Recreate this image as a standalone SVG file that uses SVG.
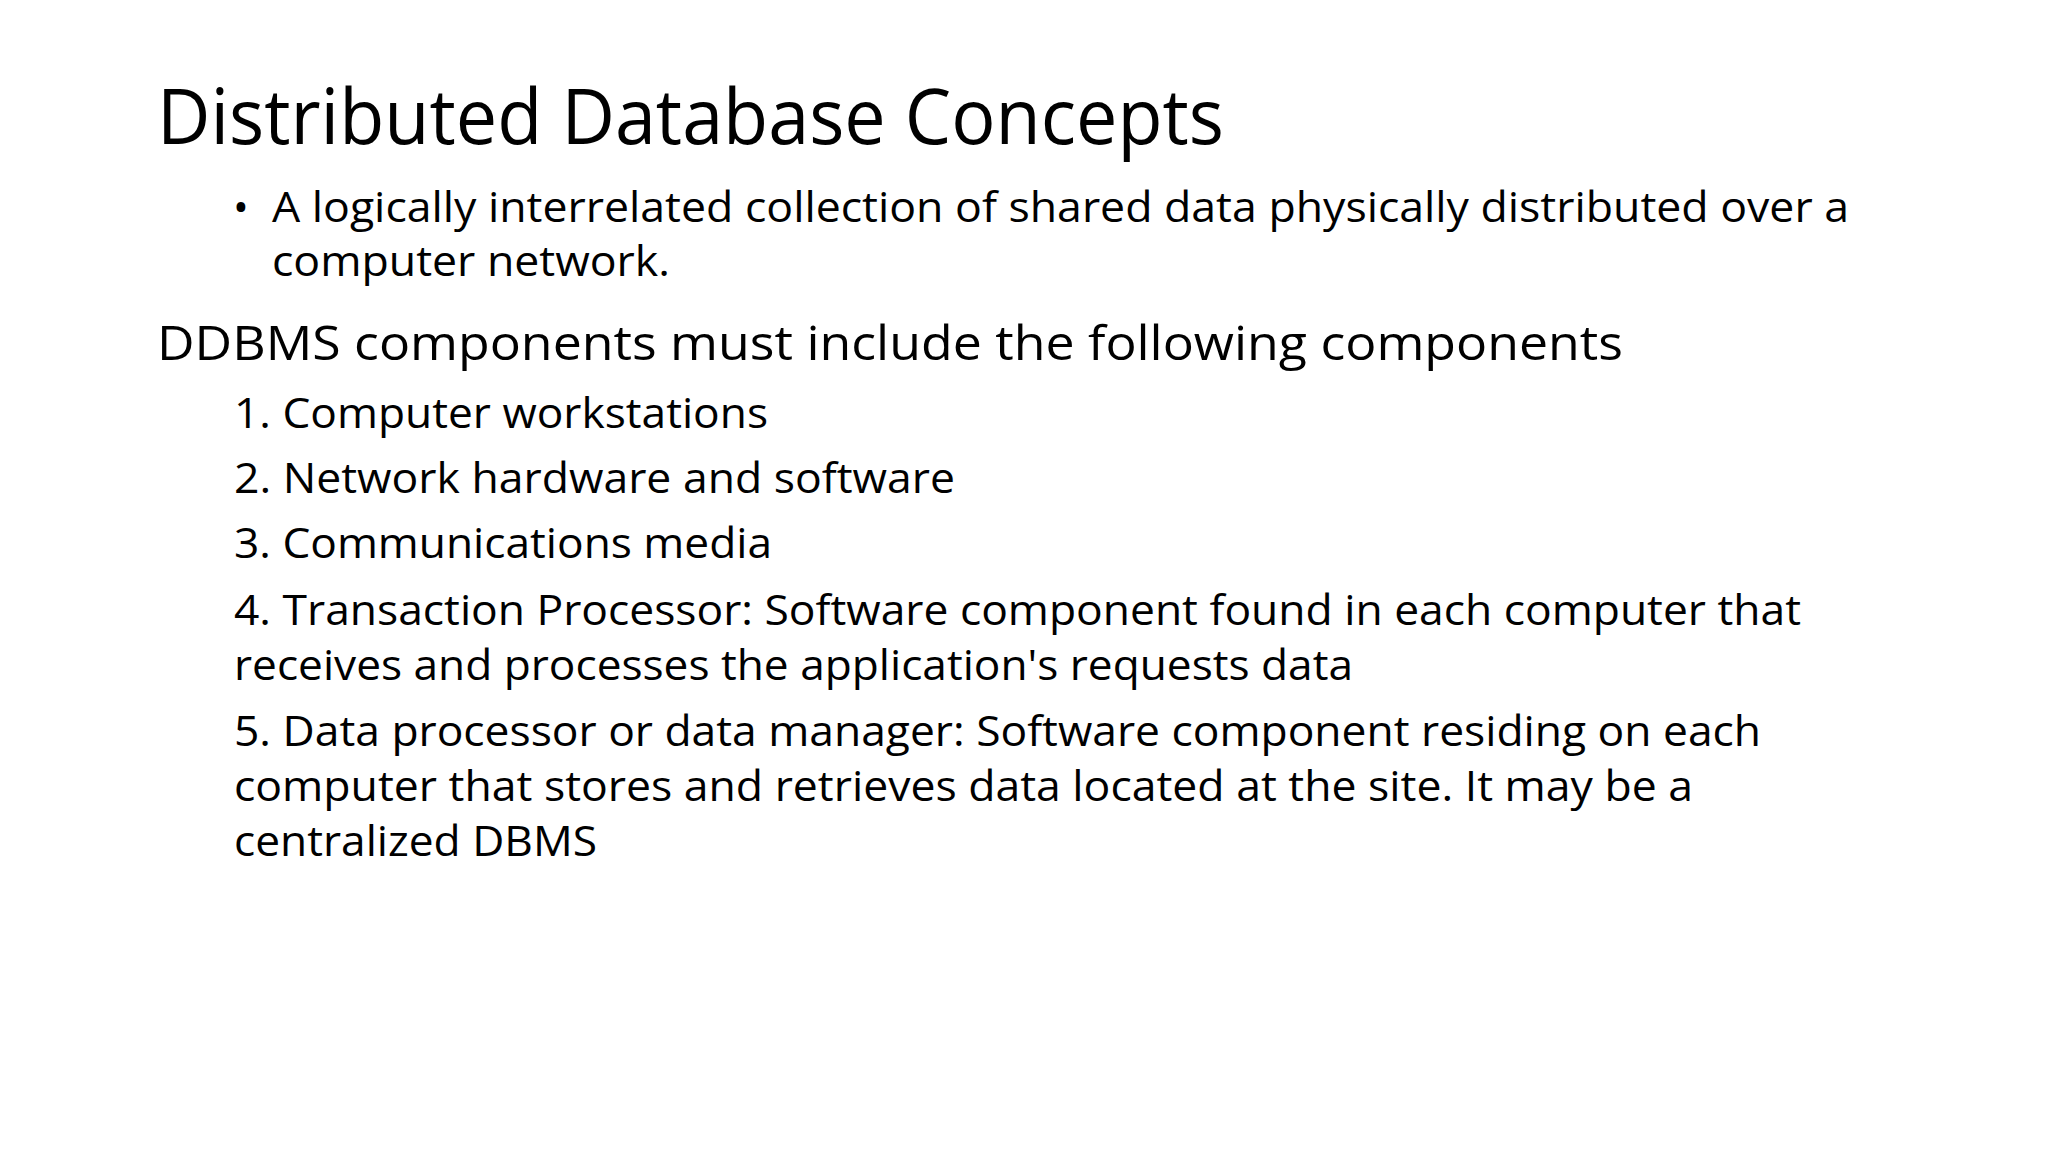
<svg xmlns="http://www.w3.org/2000/svg" width="2048" height="1152" viewBox="0 0 2048 1152">
<style>
text{font-family:"Open Sans","Liberation Sans",sans-serif;fill:#000}
.t{font-size:76px}
.b{font-size:42px}
.h{font-size:47px}
</style>
<rect width="2048" height="1152" fill="#fff"/>
<text class="t" x="157" y="144" textLength="1067" lengthAdjust="spacingAndGlyphs">Distributed Database Concepts</text>
<text class="b" x="233" y="222">•</text>
<text class="b" x="272" y="222" textLength="1577" lengthAdjust="spacingAndGlyphs">A logically interrelated collection of shared data physically distributed over a</text>
<text class="b" x="272" y="276" textLength="398" lengthAdjust="spacingAndGlyphs">computer network.</text>
<text class="h" x="157" y="360" textLength="1466" lengthAdjust="spacingAndGlyphs">DDBMS components must include the following components</text>
<text class="b" x="234" y="428" textLength="534" lengthAdjust="spacingAndGlyphs">1. Computer workstations</text>
<text class="b" x="234" y="493" textLength="721" lengthAdjust="spacingAndGlyphs">2. Network hardware and software</text>
<text class="b" x="234" y="558" textLength="538" lengthAdjust="spacingAndGlyphs">3. Communications media</text>
<text class="b" x="234" y="625" textLength="1567" lengthAdjust="spacingAndGlyphs">4. Transaction Processor: Software component found in each computer that</text>
<text class="b" x="234" y="680" textLength="1119" lengthAdjust="spacingAndGlyphs">receives and processes the application's requests data</text>
<text class="b" x="234" y="746" textLength="1527" lengthAdjust="spacingAndGlyphs">5. Data processor or data manager: Software component residing on each</text>
<text class="b" x="234" y="801" textLength="1459" lengthAdjust="spacingAndGlyphs">computer that stores and retrieves data located at the site. It may be a</text>
<text class="b" x="234" y="856" textLength="363" lengthAdjust="spacingAndGlyphs">centralized DBMS</text>
</svg>
